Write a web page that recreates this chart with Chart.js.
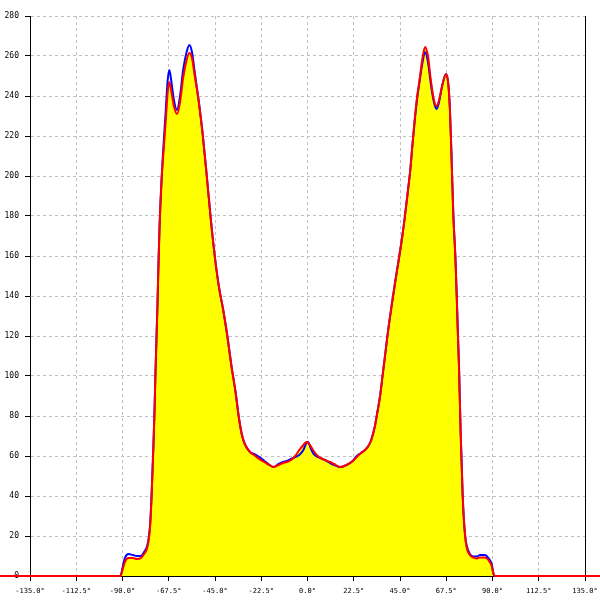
<!DOCTYPE html>
<html>
<head>
<meta charset="utf-8">
<script src="https://cdn.jsdelivr.net/npm/chart.js@4/dist/chart.umd.min.js"></script>
<style>
  body { margin: 0; background: #fff; }
  canvas { display: block; }
</style>
</head>
<body>
<canvas id="polarChart" width="600" height="600"></canvas>
<script>
// angle in degrees
var angles = [-150, -91, -90, -89, -88, -87, -85, -83, -81, -79.5, -78, -77, -76.5, -76, -75.5, -75, -74.5, -74, -73.5, -73, -72.5, -72, -71, -70, -69, -68, -67.2, -66.2, -65, -63.5, -62, -60.5, -58.8, -57.5, -56.2, -55, -53, -51, -49, -47, -45, -43, -41, -39, -37, -35, -33.5, -32, -30.5, -28, -26, -23.5, -21, -18.5, -16.5, -14, -12, -10, -8, -6, -4, -2, -0.5, 0.3, 1.5, 3, 5, 8.5, 11, 13, 16, 19, 22, 24, 26, 28, 29.6, 31, 32.8, 34, 35.3, 36.5, 37.7, 39, 40.9, 42.5, 44.2, 46, 47.4, 49, 50, 51, 52.3, 53.5, 54.5, 55.8, 57.2, 58.6, 60, 61.5, 62.8, 64, 65.5, 67.4, 68.5, 69.3, 70, 70.9, 72, 72.6, 73.2, 73.7, 74.5, 75.5, 76.6, 77.5, 79, 80.5, 82.3, 84, 86.3, 88, 89.6, 90.5, 91, 150];

var blueVals = [0, 0, 4, 8.5, 10.5, 11, 10.5, 10, 10, 12, 15, 21, 27, 37, 50, 64, 80, 100, 118, 135, 156, 174, 198, 216, 232, 248, 253, 247, 238, 233, 240, 253, 262, 265.5, 262, 253, 238, 221, 200, 178, 159, 144, 133, 120, 105, 92, 80, 71, 66, 62, 61, 59.5, 57.5, 55.5, 54.5, 56, 57, 57.5, 58.5, 59.5, 60.5, 63, 66.5, 67, 64, 61, 59.5, 58, 56.5, 55.5, 54.5, 55.5, 57.5, 60, 61.5, 63, 65, 68, 75, 82, 90, 100, 110, 121, 135, 146, 157, 169, 180, 194, 203, 215, 229, 240, 247, 256, 262, 257, 246, 237, 233.5, 237, 245, 251, 246, 233, 212, 182, 158, 140, 120, 105, 72, 40, 21, 15, 11, 9.8, 9.7, 10.5, 10.5, 9, 6, 1, 0, 0];

var redVals = [0, 0, 3, 6.5, 8.5, 9, 9, 8.5, 9, 11, 14, 20, 26, 36, 50, 64, 80, 100, 118, 135, 156, 174, 198, 213, 227, 242, 247, 242, 235, 231, 237, 249, 258, 261.5, 259, 251, 238, 221, 200, 178, 159, 144, 133, 120, 105, 92, 80, 71, 66, 62, 60.5, 58.5, 57, 55.5, 54.5, 55.5, 56.5, 57, 58, 60, 63, 65.5, 67, 66.5, 65, 62.5, 60, 58, 57, 56, 54.5, 55.5, 57.5, 59.5, 61.5, 63, 65, 68, 75, 82, 90, 100, 110, 121, 135, 146, 157, 169, 180, 194, 203, 215, 230, 241, 248, 258, 264.5, 260, 248, 238, 235, 238, 245, 251, 246, 233, 212, 182, 158, 140, 120, 105, 72, 40, 21, 14, 10.5, 9.3, 8.8, 9.3, 9.3, 8, 5, 1, 0, 0];

var xMin = -135, xMax = 135, xStep = 22.5;
var yMin = 0, yMax = 280, yStep = 20;

function toPoints(vals) {
    var pts = [];
    for (var i = 0; i < angles.length; i++) {
        pts.push({x: angles[i], y: vals[i]});
    }
    return pts;
}

var ctx = document.getElementById("polarChart").getContext("2d");
var polarChart = new Chart(ctx, {
    type: 'line',
    data: {
        datasets: [
            {
                label: "red",
                data: toPoints(redVals),
                borderColor: "#ff0000",
                borderWidth: 2,
                backgroundColor: "#ffff00",
                fill: 'origin',
                pointRadius: 0,
                cubicInterpolationMode: 'monotone',
                clip: false
            },
            {
                label: "blue",
                data: toPoints(blueVals),
                borderColor: "#0000ff",
                borderWidth: 2,
                fill: false,
                pointRadius: 0,
                cubicInterpolationMode: 'monotone',
                clip: false
            }
        ]
    },
    options: {
        responsive: false,
        animation: false,
        layout: {padding: {top: 16, right: 15, left: 0, bottom: 0}},
        plugins: {
            legend: {display: false},
            tooltip: {enabled: false},
            filler: {drawTime: 'beforeDatasetsDraw'}
        },
        scales: {
            x: {
                type: 'linear',
                min: xMin,
                max: xMax,
                afterFit: function (s) { s.height = 24; s.paddingRight = 0; s.paddingLeft = 0; },
                afterBuildTicks: function (s) {
                    var t = [];
                    for (var v = xMin; v <= xMax; v += xStep) t.push({value: v});
                    s.ticks = t;
                },
                ticks: {
                    font: {family: "'DejaVu Sans Mono', monospace", size: 7},
                    color: "#000",
                    padding: 6,
                    maxRotation: 0,
                    autoSkip: false,
                    callback: function (v) { return v.toFixed(1) + "°"; }
                },
                grid: {
                    color: "#c0c0c0",
                    tickColor: "#000",
                    tickLength: 5,
                    tickBorderDash: []
                },
                border: {color: "#000", width: 1, dash: [3, 3]}
            },
            y: {
                min: yMin,
                max: yMax,
                afterFit: function (s) { s.width = 30; },
                ticks: {
                    stepSize: yStep,
                    font: {family: "'DejaVu Sans Mono', monospace", size: 8},
                    color: "#000",
                    padding: 6
                },
                grid: {
                    color: "#c0c0c0",
                    tickColor: "#000",
                    tickLength: 5,
                    tickBorderDash: []
                },
                border: {color: "#000", width: 1, dash: [3, 3]}
            },
            yRight: {
                position: 'right',
                min: yMin,
                max: yMax,
                afterFit: function (s) { s.width = 0; },
                ticks: {display: false},
                grid: {display: false},
                border: {color: "#000", width: 1}
            }
        }
    }
});
</script>
</body>
</html>
